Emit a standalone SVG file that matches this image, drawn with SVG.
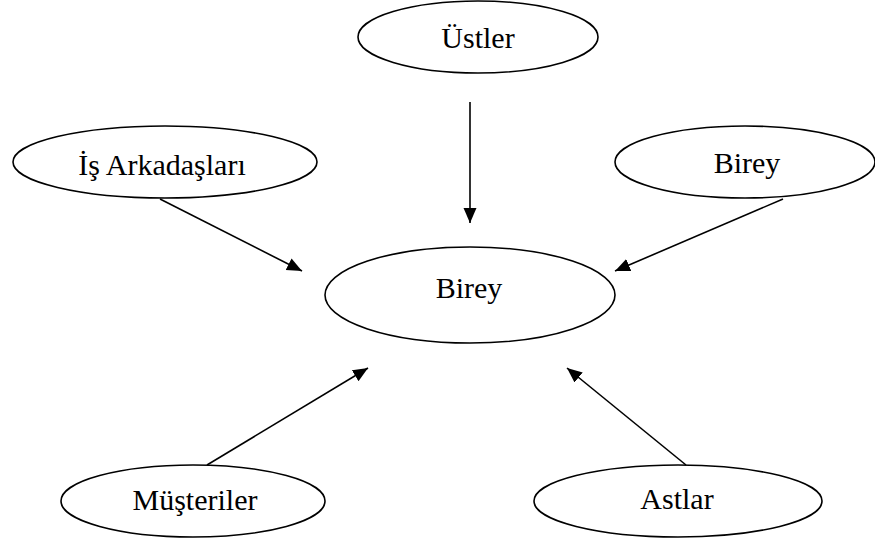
<svg xmlns="http://www.w3.org/2000/svg" width="875" height="540" viewBox="0 0 875 540">
<style>
.node ellipse{fill:#fff;stroke:#000;stroke-width:1.6}
.node text{font-family:"Liberation Serif","Times New Roman",serif;font-size:30px;fill:#000;text-anchor:middle}
.edge{stroke:#000;stroke-width:1.6;fill:none;marker-end:url(#ah)}
</style>
<defs>
<marker id="ah" markerUnits="userSpaceOnUse" markerWidth="16" markerHeight="14" refX="15" refY="6.5" orient="auto">
<path d="M0,0 L15,6.5 L0,13 z" fill="#000"/>
</marker>
</defs>
<rect width="875" height="540" fill="#fff"/>
<g id="n-ustler" class="node"><ellipse cx="478" cy="37" rx="120" ry="36"/><text x="478" y="48">Üstler</text></g>
<g id="n-is" class="node"><ellipse cx="165" cy="162" rx="152" ry="36"/><text x="162" y="175">İş Arkadaşları</text></g>
<g id="n-birey-r" class="node"><ellipse cx="745" cy="162" rx="130" ry="36"/><text x="747" y="173">Birey</text></g>
<g id="n-birey" class="node"><ellipse cx="470" cy="295" rx="145" ry="48"/><text x="469" y="298">Birey</text></g>
<g id="n-musteriler" class="node"><ellipse cx="193" cy="501" rx="132" ry="36"/><text x="195" y="510">Müşteriler</text></g>
<g id="n-astlar" class="node"><ellipse cx="678" cy="501" rx="144" ry="36"/><text x="677" y="509">Astlar</text></g>
<g id="edges">
<line class="edge" x1="470" y1="102" x2="470" y2="223"/>
<line class="edge" x1="160" y1="199" x2="302" y2="271"/>
<line class="edge" x1="783" y1="199" x2="615" y2="271"/>
<line class="edge" x1="207" y1="465" x2="368" y2="368"/>
<line class="edge" x1="686" y1="465" x2="567" y2="368"/>
</g>
</svg>
